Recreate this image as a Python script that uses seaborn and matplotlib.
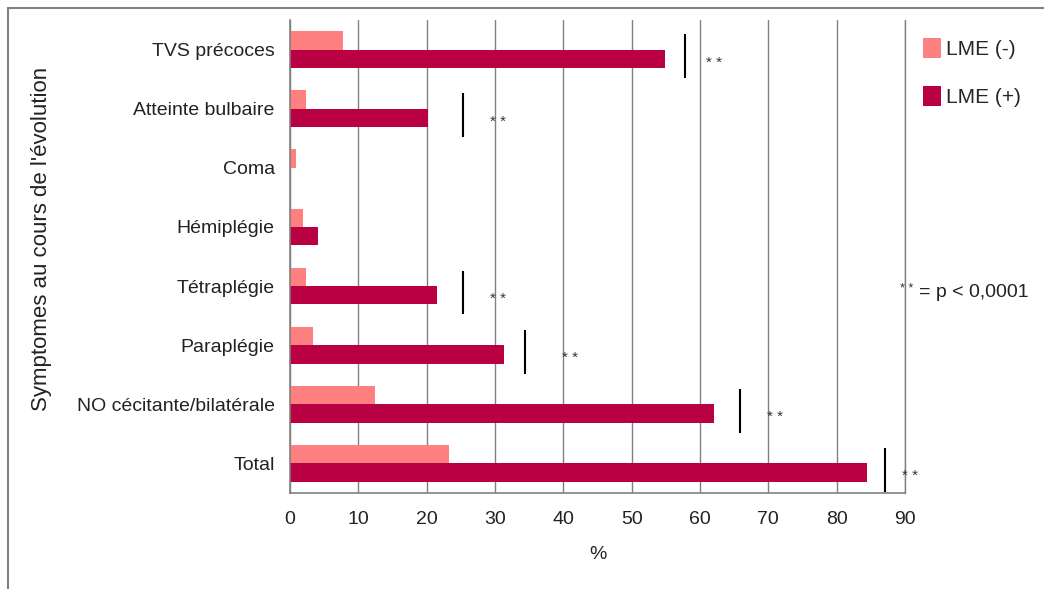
import pandas as pd
import matplotlib.pyplot as plt
import seaborn as sns
from matplotlib.lines import Line2D

# Data
categories = ["TVS précoces", "Atteinte bulbaire", "Coma", "Hémiplégie",
              "Tétraplégie", "Paraplégie", "NO cécitante/bilatérale", "Total"]
lme_neg = [7.8, 2.4, 0.9, 1.9, 2.3, 3.4, 12.5, 23.3]
lme_pos = [54.9, 20.2, 0.0, 4.1, 21.5, 31.3, 62.1, 84.5]
series_names = ["LME (-)", "LME (+)"]
# significance markers (None = no test shown)
sig_line = [57.8, 25.3, None, None, 25.3, 34.4, 65.9, 87.0]
sig_star = [62.0, 30.5, None, None, 30.5, 41.0, 71.0, 90.8]
x_ticks = [0, 10, 20, 30, 40, 50, 60, 70, 80, 90]

df = pd.DataFrame({
    "Symptome": categories * 2,
    "Groupe": [series_names[0]] * len(categories) + [series_names[1]] * len(categories),
    "Pourcentage": lme_neg + lme_pos,
})

sns.set_style("white")
plt.rcParams["font.family"] = ["Liberation Sans", "DejaVu Sans"]

fig = plt.figure(figsize=(10.44, 5.89), dpi=100)
ax = fig.add_axes([290 / 1044, 1 - 493 / 589, 615 / 1044, 473 / 589])

sns.barplot(
    data=df, x="Pourcentage", y="Symptome", hue="Groupe",
    order=categories, hue_order=series_names,
    palette=["#FF8080", "#B80042"], orient="h", width=0.62,
    saturation=1, errorbar=None, linewidth=0, ax=ax, legend=True,
)

# significance bars and stars
for i, (lx, sx) in enumerate(zip(sig_line, sig_star)):
    if lx is None:
        continue
    ax.vlines(lx, i - 0.26, i + 0.48, color="black", lw=1.5)
    ax.text(sx, i + 0.22, "* *", fontsize=11, color="#333333", ha="center", va="center")

ax.set_xlim(0, 90)
ax.set_ylim(len(categories) - 0.5, -0.5)
ax.set_xticks(x_ticks)
ax.set_xlabel("%", fontsize=14, color="#222222", labelpad=13)
ax.set_ylabel("")
ax.xaxis.grid(True, color="#808080", lw=1)
ax.set_axisbelow(True)

ax.spines["top"].set_visible(False)
ax.spines["right"].set_color("#808080")
ax.spines["right"].set_linewidth(1)
for s in ["left", "bottom"]:
    ax.spines[s].set_color("#808080")
    ax.spines[s].set_linewidth(1.2)

ax.tick_params(axis="x", length=6, color="#808080", labelsize=14, labelcolor="#222222", pad=7)
ax.tick_params(axis="y", which="major", length=0, labelsize=14, labelcolor="#222222", pad=11)
ax.set_yticks([i - 0.5 for i in range(len(categories) + 1)], minor=True)
ax.tick_params(axis="y", which="minor", length=6, color="#808080", direction="out")

ax.legend(
    loc="upper left", bbox_to_anchor=(923 / 1044, 1 - 38 / 589),
    bbox_transform=fig.transFigure, frameon=False, fontsize=15,
    handlelength=0.85, handleheight=1.1, handletextpad=0.25,
    labelspacing=1.3, borderpad=0, borderaxespad=0,
)

fig.text(900 / 1044, 1 - 289 / 589, "* *", fontsize=9, color="#333333",
         va="center", ha="left")
fig.text(919 / 1044, 1 - 293 / 589, "= p < 0,0001", fontsize=14,
         color="#222222", va="center", ha="left")
fig.text(42 / 1044, 1 - 239 / 589, "Symptomes au cours de l'évolution",
         fontsize=16, color="#222222", rotation=90, va="center", ha="center")

# outer frame
fig.add_artist(Line2D([8 / 1044, 8 / 1044], [0, 1 - 8 / 589], color="#808080", lw=1.5))
fig.add_artist(Line2D([8 / 1044, 1], [1 - 8 / 589, 1 - 8 / 589], color="#808080", lw=1.5))

fig.savefig("out.png", dpi=100)
